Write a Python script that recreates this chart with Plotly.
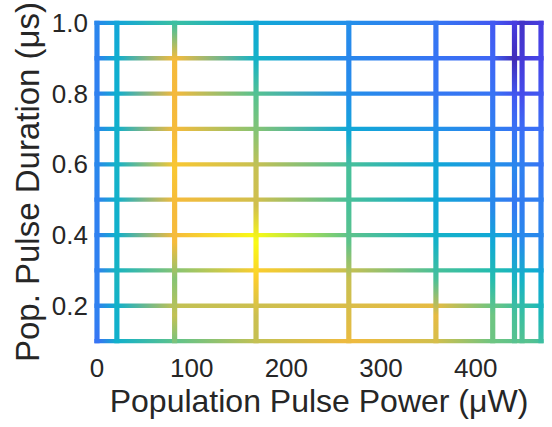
import plotly.graph_objects as go
from plotly.colors import sample_colorscale

# Population pulse power settings (uW) and pulse durations (us)
power_uW = [0, 21, 82, 168, 266, 358, 418, 441, 449, 469]
duration_us = [0.1, 0.2, 0.3, 0.4, 0.5, 0.6, 0.7, 0.8, 0.9, 1.0]

# Normalised signal, one row per duration (0.1 us first), one value per power
signal = [
    [0.16, 0.37, 0.53, 0.65, 0.74, 0.68, 0.55, 0.53, 0.53, 0.50],
    [0.20, 0.37, 0.65, 0.67, 0.70, 0.72, 0.55, 0.50, 0.48, 0.42],
    [0.20, 0.40, 0.58, 0.85, 0.66, 0.50, 0.45, 0.40, 0.38, 0.34],
    [0.20, 0.37, 0.76, 1.00, 0.53, 0.38, 0.33, 0.25, 0.23, 0.22],
    [0.20, 0.37, 0.76, 0.68, 0.50, 0.33, 0.22, 0.18, 0.19, 0.20],
    [0.22, 0.38, 0.82, 0.66, 0.50, 0.33, 0.24, 0.22, 0.20, 0.17],
    [0.22, 0.37, 0.76, 0.58, 0.33, 0.25, 0.20, 0.17, 0.16, 0.16],
    [0.20, 0.36, 0.75, 0.52, 0.24, 0.18, 0.17, 0.12, 0.10, 0.12],
    [0.20, 0.36, 0.76, 0.38, 0.22, 0.17, 0.14, 0.02, 0.06, 0.09],
    [0.22, 0.32, 0.48, 0.33, 0.24, 0.18, 0.12, 0.07, 0.04, 0.07],
]

x_ticks = [0, 100, 200, 300, 400]
y_ticks = [0.2, 0.4, 0.6, 0.8, 1.0]

PARULA = [
    [0.00, "#3e26a8"], [0.08, "#4840e8"], [0.15, "#3d6cf7"], [0.25, "#2193e8"],
    [0.35, "#0dadd2"], [0.45, "#23bcb0"], [0.55, "#6dc582"], [0.65, "#c2c154"],
    [0.75, "#f5b93c"], [0.85, "#fbcd2e"], [1.00, "#f9fb15"],
]

W, H = 552, 427
ML, MR, MT, MB = 94, 8, 9, 83
plot_w = W - ML - MR
plot_h = H - MT - MB
inset = 3          # px between the outer mesh lines and the plot edge
half_lw = 2.6      # half of the mesh line width, px

x0, x1 = power_uW[0], power_uW[-1]
y0, y1 = duration_us[0], duration_us[-1]
sx = (plot_w - 2 * inset) / (x1 - x0)
sy = (plot_h - 2 * inset) / (y1 - y0)
hx = half_lw / sx
hy = 0.85 * half_lw / sy


def colours(values):
    return sample_colorscale(PARULA, values)


fig = go.Figure()

# Lines of constant duration, coloured along the power axis
for j, y in enumerate(duration_us):
    cols = colours(signal[j])
    scale = [[(x - x0) / (x1 - x0), c] for x, c in zip(power_uW, cols)]
    fig.add_trace(go.Scatter(
        x=[x0 - hx, x1 + hx, x1 + hx, x0 - hx, x0 - hx],
        y=[y - hy, y - hy, y + hy, y + hy, y - hy],
        mode="lines", line=dict(width=0), fill="toself",
        fillgradient=dict(type="horizontal", start=x0, stop=x1, colorscale=scale),
        hoverinfo="skip", showlegend=False,
    ))

# Lines of constant power, coloured along the duration axis
for i, x in enumerate(power_uW):
    cols = colours([row[i] for row in signal])
    scale = [[(y - y0) / (y1 - y0), c] for y, c in zip(duration_us, cols)]
    fig.add_trace(go.Scatter(
        x=[x - hx, x + hx, x + hx, x - hx, x - hx],
        y=[y0 - hy, y0 - hy, y1 + hy, y1 + hy, y0 - hy],
        mode="lines", line=dict(width=0), fill="toself",
        fillgradient=dict(type="vertical", start=y0, stop=y1, colorscale=scale),
        hoverinfo="skip", showlegend=False,
    ))

font_family = "Liberation Sans, Arial, Helvetica, sans-serif"
text_col = "#262626"

fig.update_layout(
    width=W, height=H,
    margin=dict(l=ML, r=MR, t=MT, b=MB),
    paper_bgcolor="white", plot_bgcolor="white",
    font=dict(family=font_family, color=text_col),
    xaxis=dict(
        range=[x0 - inset / sx, x1 + inset / sx],
        tickvals=x_ticks, ticks="", showgrid=False, zeroline=False, showline=False,
        tickfont=dict(size=26), ticklabelstandoff=6,
        title=dict(text="Population Pulse Power (μW)", font=dict(size=32), standoff=6),
    ),
    yaxis=dict(
        range=[y0 - inset / sy, y1 + inset / sy],
        tickvals=y_ticks, tickformat=".1f", ticks="", showgrid=False, zeroline=False,
        showline=False, tickfont=dict(size=26), ticklabelstandoff=5,
        ticklabeloverflow="allow",
        title=dict(text="Pop. Pulse Duration (μs)", font=dict(size=33), standoff=2),
    ),
)

fig.write_html("out.html")
